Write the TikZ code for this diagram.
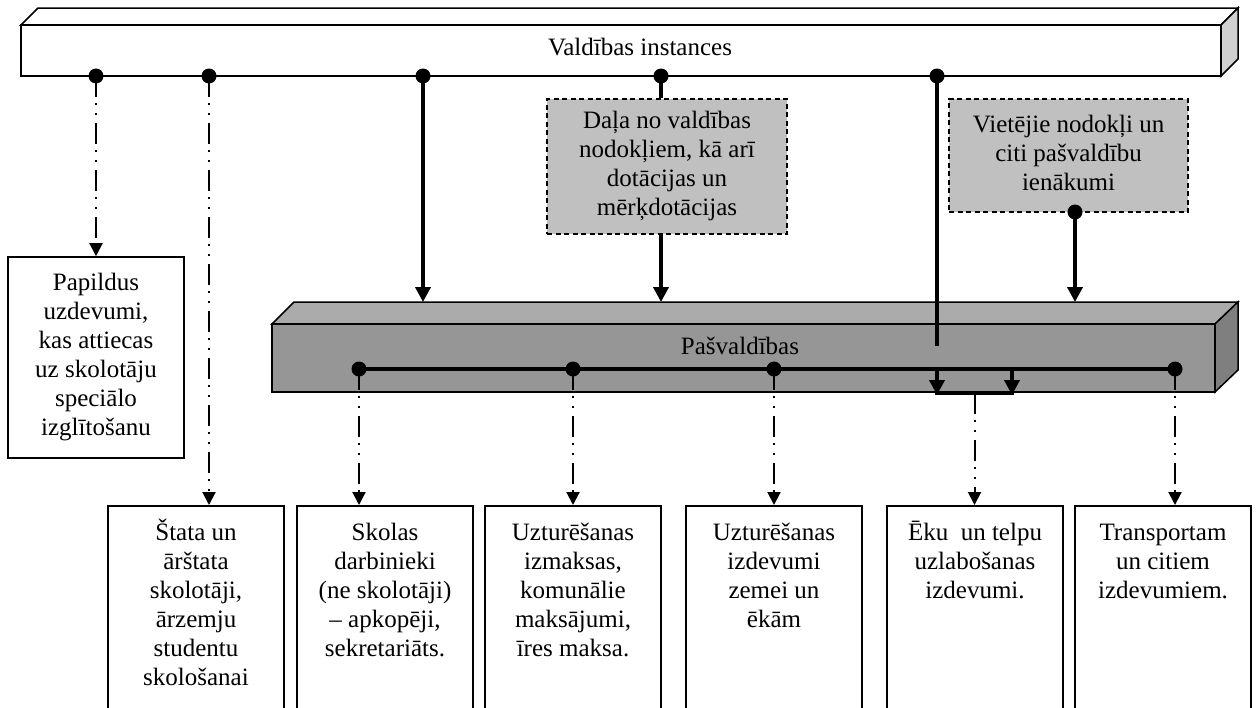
\documentclass[tikz,border=0pt]{standalone}
\usepackage{fontspec}
\setmainfont{Liberation Serif}
\usetikzlibrary{arrows.meta}
\definecolor{srcfill}{HTML}{C0C0C0}
\definecolor{munitop}{HTML}{ABABAB}
\definecolor{munifront}{HTML}{969696}
\definecolor{muniside}{HTML}{7F7F7F}
\definecolor{govside}{HTML}{D0D0D0}
% centred block of lines, and a block hanging from its first baseline
\newcommand{\lines}[1]{\begin{tabular}{@{}c@{}}#1\end{tabular}}
\newcommand{\toplines}[1]{\begin{tabular}[t]{@{}c@{}}#1\end{tabular}}

\begin{document}
\begin{tikzpicture}[x=1pt,y=-1pt,
  every node/.style={font=\fontsize{25}{29}\selectfont, inner sep=0pt},
  face/.style={draw, line width=1.5pt, line join=miter},
  outbox/.style={draw, line width=1.6pt, fill=white, minimum width=176pt, minimum height=230pt, anchor=north},
  srcbox/.style={draw, dash pattern=on 5pt off 3.5pt, line width=1.4pt, fill=srcfill},
  hub/.style={circle, fill=black, minimum size=15pt},
  feed/.style={line width=4.5pt},
  feedarrow/.style={feed, -{Triangle[length=15pt,width=15pt]}},
  share/.style={line width=2pt, dash pattern=on 21pt off 6pt on 2pt off 8pt on 2pt off 8pt,
                -{Triangle[length=13pt,width=13pt]}},
]
\useasboundingbox (0,0) rectangle (1257,707);
\fill[white] (0,0) rectangle (1257,707);
\clip (0,0) rectangle (1257,707);

% ---- central government bar
\path[face, fill=white] (21,25) -- (38,8) -- (1238,8) -- (1221,25) -- cycle;
\path[face, fill=govside] (1221,25) -- (1238,8) -- (1238,59) -- (1221,76) -- cycle;
\node[face, fill=white, minimum width=1200pt, minimum height=51pt] (gov) at (621,50.5) {};
\node (govlabel) at (640,47) {Valdības instances};

\node[hub] (g1) at (96,76) {};
\node[hub] (g2) at (209,76) {};
\node[hub] (g3) at (423,76) {};
\node[hub] (g4) at (661,76) {};
\node[hub] (g5) at (937,76) {};

% ---- funding sources
\node[srcbox, minimum width=240pt, minimum height=135pt] (grant) at (667,166.5)
  {\lines{Daļa no valdības\\nodokļiem, kā arī\\dotācijas un\\mērķdotācijas}};
\node[srcbox, minimum width=239pt, minimum height=113pt] (local) at (1068.5,155.5)
  {\lines{Vietējie nodokļi un\\citi pašvaldību\\ienākumi}};
\node[hub] (v) at (1075,212) {};

% ---- extra tasks box
\node[draw, line width=1.6pt, fill=white, minimum width=176pt, minimum height=201pt] (extra) at (96,357.5)
  {\lines{Papildus\\uzdevumi,\\kas attiecas\\uz skolotāju\\speciālo\\izglītošanu}};

% ---- municipality bar
\path[face, fill=munitop] (272,324) -- (294,302) -- (1238,302) -- (1215,324) -- cycle;
\path[face, fill=muniside] (1215,324) -- (1238,302) -- (1238,370) -- (1215,392) -- cycle;
\node[face, fill=munifront, minimum width=943pt, minimum height=68pt] (muni) at (743.5,358) {};
\coordinate (mtop) at (294,302);
\node (munilabel) at (740,346) {Pašvaldības};

% ---- expenditure boxes
\node[outbox] (b1) at (196,505) {};
\node[outbox] (b2) at (385,505) {};
\node[outbox] (b3) at (573,505) {};
\node[outbox] (b4) at (774,505) {};
\node[outbox] (b5) at (975,505) {};
\node[outbox] (b6) at (1163,505) {};
\node[anchor=base] (b1t) at (196,540) {\toplines{Štata un\\ārštata\\skolotāji,\\ārzemju\\studentu\\skološanai}};
\node[anchor=base] (b2t) at (385,540) {\toplines{Skolas\\darbinieki\\(ne skolotāji)\\– apkopēji,\\sekretariāts.}};
\node[anchor=base] (b3t) at (573,540) {\toplines{Uzturēšanas\\izmaksas,\\komunālie\\maksājumi,\\īres maksa.}};
\node[anchor=base] (b4t) at (774,540) {\toplines{Uzturēšanas\\izdevumi\\zemei un\\ēkām}};
\node[anchor=base] (b5t) at (975,540) {\toplines{Ēku\ \ un telpu\\uzlabošanas\\izdevumi.}};
\node[anchor=base] (b6t) at (1163,540) {\toplines{Transportam\\un citiem\\izdevumiem.}};

% ---- flows from the government
\draw[share] (g1.center) -- (extra.north);
\draw[share] (g2.center) -- (g2.center |- b1.north);
\draw[feedarrow] (g3.center) -- (g3.center |- mtop);
\draw[feed] (g4.center) -- (g4.center |- grant.north);
\draw[feedarrow] (g4.center |- grant.south) -- (g4.center |- mtop);
\draw[feedarrow] (v.center) -- (v.center |- mtop);
\coordinate (stub) at (937,346);
\draw[feed] (g5.center) -- (stub);

% ---- municipal distribution bus
\node[hub] (m1) at (359,369) {};
\node[hub] (m2) at (573,369) {};
\node[hub] (m3) at (774,369) {};
\node[hub] (m4) at (1175,369) {};
\draw[feed] (m1.center) -- (m4.center);

\coordinate (k1) at (937,369);
\coordinate (k2) at (1012,369);
\coordinate (kb1) at (937,393);
\coordinate (kb2) at (1012,393);
\coordinate (kmid) at (974.5,393);
\draw[feedarrow] (k1) -- ([yshift=-2pt]kb1);
\draw[feedarrow] (k2) -- ([yshift=-2pt]kb2);
\draw[feed] ([xshift=-2pt]kb1) -- ([xshift=2pt]kb2);

\draw[share] (m1.center) -- (m1.center |- b2.north);
\draw[share] (m2.center) -- (m2.center |- b3.north);
\draw[share] (m3.center) -- (m3.center |- b4.north);
\draw[share] (kmid) -- (kmid |- b5.north);
\draw[share] (m4.center) -- (m4.center |- b6.north);
\end{tikzpicture}
\end{document}
